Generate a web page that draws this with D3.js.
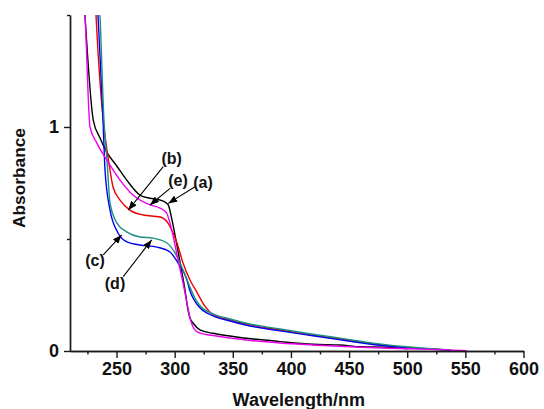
<!DOCTYPE html>
<html>
<head>
<meta charset="utf-8">
<script src="https://cdn.jsdelivr.net/npm/d3@7"></script>
<style>
  body { margin: 0; background: #fff; }
  text { font-family: Arial, "Liberation Sans", sans-serif; }
</style>
</head>
<body>
<div id="chart"></div>
<script>
// spectra: [wavelength nm, absorbance]
let curveA = [[222.1,1.56],[222.9,1.496],[230,1.031],[235.8,0.951],[241.6,0.888],[250.2,0.826],[258.8,0.763],[270.2,0.696],[278.8,0.682],[287.4,0.674],[291.7,0.665],[294.5,0.652],[297.7,0.585],[301.1,0.496],[304.6,0.397],[308.9,0.272],[311.5,0.183],[313.2,0.147],[315.8,0.125],[321.8,0.094],[333,0.079],[361.9,0.057],[390.6,0.042],[418.9,0.030],[442.2,0.027],[459.4,0.019],[470.5,0.018],[496.3,0.012],[500,0.010]]
let curveB = [[231.8,1.56],[232.4,1.496],[239.2,1.0],[241.8,0.897],[244.4,0.808],[247,0.732],[253,0.674],[261.6,0.629],[272.8,0.607],[287.4,0.598],[294.3,0.571],[298.6,0.527],[302,0.482],[307.2,0.393],[313.2,0.317],[319.2,0.262],[326,0.200],[333,0.163],[347.6,0.139],[361.9,0.120],[390.6,0.094],[418.9,0.071],[447.9,0.050],[470.5,0.032],[499.5,0.016],[528,0.007],[536,0.003]]
let curveC = [[233.5,1.56],[234.1,1.496],[238.4,1.031],[240.1,0.808],[244.4,0.63],[251.3,0.527],[259,0.487],[270.2,0.473],[284.8,0.464],[296,0.442],[302.9,0.393],[310.6,0.317],[313.2,0.268],[317.5,0.222],[321.8,0.193],[333,0.157],[347.6,0.134],[361.9,0.115],[390.6,0.090],[418.9,0.068],[447.9,0.046],[470.5,0.029],[499.5,0.014],[528,0.006],[538,0.003]]
let curveD = [[235.2,1.56],[235.8,1.496],[239.2,1.031],[241.8,0.853],[244.4,0.661],[250.4,0.571],[259,0.531],[270.2,0.509],[281.4,0.504],[293.4,0.482],[300.3,0.438],[307.2,0.362],[313.2,0.285],[317.5,0.235],[321.8,0.203],[333,0.166],[347.6,0.143],[361.9,0.124],[390.6,0.098],[418.9,0.075],[447.9,0.053],[470.5,0.035],[499.5,0.019],[528,0.008],[538,0.004]]
let curveE = [[222.1,1.56],[222.9,1.496],[227.2,1.0],[233,0.929],[241.6,0.853],[253,0.763],[264.2,0.696],[278.8,0.652],[287.4,0.638],[293.1,0.616],[296,0.571],[299.4,0.496],[302.9,0.406],[307.2,0.304],[310.6,0.214],[313.2,0.147],[315.8,0.107],[318.3,0.089],[321.8,0.080],[333,0.069],[361.9,0.049],[390.6,0.036],[418.9,0.027],[459.4,0.017],[498.9,0.010],[528,0.006],[551,0.001]]

let seriesNames = ['(a)', '(b)', '(c)', '(d)', '(e)']
let seriesColors = ['#000000', '#ee0000', '#0000ee', '#1a9084', '#ee00ee']

// annotation label centres and arrows, in data units
let labelPos = [[324.4,0.754],[297.4,0.862],[231.5,0.406],[248.7,0.304],[302.9,0.763]]
let arrowFrom = [[317.5,0.733],[290.2,0.823],[238.6,0.429],[255.8,0.332],[296,0.726]]
let arrowTo = [[294.5,0.659],[260.1,0.629],[254.4,0.518],[280.2,0.496],[278.8,0.652]]

let xMajorTicks = [250, 300, 350, 400, 450, 500, 550, 600]
let xMinorTicks = [225, 275, 325, 375, 425, 475, 525, 575]
let yMajorTicks = [0, 1]
let yMinorTicks = [0.5, 1.5]

let margin = { top: 15, left: 70, right: 20.5, bottom: 58 }
let width = 544 - margin.left - margin.right
let height = 409 - margin.top - margin.bottom

let svg = d3
  .select('#chart')
  .append('svg')
  .attr('width', 544)
  .attr('height', 409)
  .append('g')
  .attr('transform', 'translate(' + margin.left + ',' + margin.top + ')')

let xPositionScale = d3.scaleLinear().domain([210, 600]).range([0, width])
let yPositionScale = d3.scaleLinear().domain([0, 1.5]).range([height, 0])

svg.append('defs')
  .append('clipPath')
  .attr('id', 'plot-clip')
  .append('rect')
  .attr('width', width)
  .attr('height', height)

let marker = svg.select('defs')
  .append('marker')
  .attr('id', 'arrowhead')
  .attr('markerUnits', 'userSpaceOnUse')
  .attr('markerWidth', 9)
  .attr('markerHeight', 7)
  .attr('refX', 9)
  .attr('refY', 3.5)
  .attr('orient', 'auto')
marker.append('path')
  .attr('d', 'M0,0 L9,3.5 L0,7 Z')
  .attr('fill', '#000')

let line = d3.line()
  .x(d => xPositionScale(d[0]))
  .y(d => yPositionScale(d[1]))
  .curve(d3.curveMonotoneX)

let curves = [curveA, curveB, curveC, curveD, curveE]

svg.append('g')
  .attr('clip-path', 'url(#plot-clip)')
  .selectAll('path')
  .data(curves)
  .enter()
  .append('path')
  .attr('d', d => line(d))
  .attr('fill', 'none')
  .attr('stroke', (d, i) => seriesColors[i])
  .attr('stroke-width', 1.4)

// x axis, major + minor ticks
let xAxis = d3.axisBottom(xPositionScale)
  .tickValues(xMajorTicks)
  .tickSize(7)
  .tickSizeOuter(0)
  .tickPadding(4)
svg.append('g')
  .attr('class', 'axis x-axis')
  .attr('transform', 'translate(0,' + height + ')')
  .call(xAxis)

svg.append('g')
  .attr('class', 'axis x-minor')
  .attr('transform', 'translate(0,' + height + ')')
  .call(d3.axisBottom(xPositionScale).tickValues(xMinorTicks).tickSize(3.5).tickSizeOuter(0).tickFormat(''))

// y axis
let yAxis = d3.axisLeft(yPositionScale)
  .tickValues(yMajorTicks)
  .tickSize(6)
  .tickSizeOuter(0)
  .tickPadding(5)
  .tickFormat(d3.format('d'))
svg.append('g')
  .attr('class', 'axis y-axis')
  .call(yAxis)

svg.append('g')
  .attr('class', 'axis y-minor')
  .call(d3.axisLeft(yPositionScale).tickValues(yMinorTicks).tickSize(3).tickSizeOuter(0).tickFormat(''))

svg.selectAll('.axis path, .axis line')
  .attr('stroke', '#1a1a1a')
  .attr('stroke-width', 1.4)
svg.selectAll('.axis text')
  .attr('font-family', 'Arial, "Liberation Sans", sans-serif')
  .attr('font-size', 18)
  .attr('font-weight', 'bold')
  .attr('fill', '#111')

// axis titles
svg.append('text')
  .attr('x', width / 2 + 2)
  .attr('y', height + 55)
  .attr('text-anchor', 'middle')
  .attr('font-size', 18)
  .attr('font-weight', 'bold')
  .attr('fill', '#111')
  .text('Wavelength/nm')

svg.append('text')
  .attr('transform', 'translate(' + (19 - margin.left + 6) + ',' + (178 - margin.top) + ') rotate(-90)')
  .attr('text-anchor', 'middle')
  .attr('font-size', 17.3)
  .attr('font-weight', 'bold')
  .attr('fill', '#111')
  .text('Absorbance')

// arrows and labels
svg.append('g')
  .selectAll('line')
  .data(arrowFrom)
  .enter()
  .append('line')
  .attr('x1', d => xPositionScale(d[0]))
  .attr('y1', d => yPositionScale(d[1]))
  .attr('x2', (d, i) => xPositionScale(arrowTo[i][0]))
  .attr('y2', (d, i) => yPositionScale(arrowTo[i][1]))
  .attr('stroke', '#000')
  .attr('stroke-width', 1.1)
  .attr('marker-end', 'url(#arrowhead)')

svg.append('g')
  .selectAll('text')
  .data(labelPos)
  .enter()
  .append('text')
  .attr('x', d => xPositionScale(d[0]))
  .attr('y', d => yPositionScale(d[1]))
  .attr('dy', '0.35em')
  .attr('text-anchor', 'middle')
  .attr('font-size', 16)
  .attr('font-weight', 'bold')
  .attr('fill', '#111')
  .text((d, i) => seriesNames[i])
</script>
</body>
</html>
